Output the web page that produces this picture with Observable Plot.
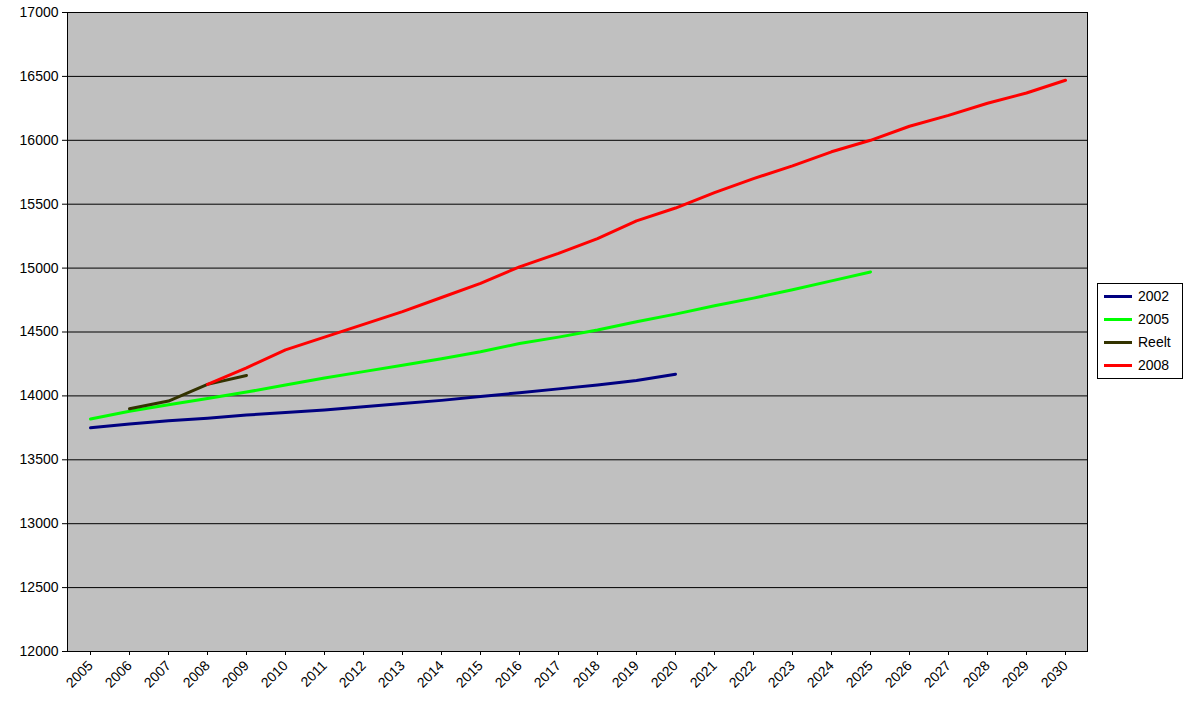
<!DOCTYPE html>
<html><head><meta charset="utf-8">
<script src="https://cdn.jsdelivr.net/npm/d3@7"></script>
<script src="https://cdn.jsdelivr.net/npm/@observablehq/plot@0.6"></script>
<style>
body{margin:0;background:#fff;font-family:"Liberation Sans",Arial,sans-serif}
#wrap{position:relative;width:1185px;height:704px}
#legend{position:absolute;left:1097px;top:283px;width:86px;height:96px;border:1px solid #000;background:#fff;box-sizing:border-box;font-size:14px}
#legend div{display:flex;align-items:center;height:22px;margin-left:6px;margin-top:1px}
#legend span{display:inline-block;width:28px;height:3px;margin-right:6px}
</style></head><body>
<div id="wrap"><div id="chart"></div><div id="legend"></div></div>
<script>
const years = d3.range(2005, 2031).map(String);
const s2002 = [13750,13780,13805,13825,13850,13870,13890,13915,13940,13965,13995,14025,14055,14085,14120,14170];
const s2005 = [13820,13880,13930,13980,14030,14085,14140,14190,14240,14290,14345,14410,14460,14515,14580,14640,14705,14765,14830,14900,14970];
const sReelt = [13900,13960,14090,14160];
const s2008 = [14090,14220,14360,14460,14560,14660,14770,14880,15010,15115,15230,15370,15470,15590,15700,15800,15910,16000,16110,16195,16290,16370,16470];
const series = [
  {name:"2002", start:2005, values:s2002, color:"#000080"},
  {name:"2005", start:2005, values:s2005, color:"#00FF00"},
  {name:"Reelt", start:2006, values:sReelt, color:"#333300"},
  {name:"2008", start:2008, values:s2008, color:"#FF0000"}
];
const rows = series.flatMap(s => s.values.map((v,i) => ({serie:s.name, year:String(s.start+i), value:v})));
const yTicks = d3.range(12000, 17001, 500);

const chart = Plot.plot({
  width:1185, height:704,
  marginLeft:67, marginRight:98, marginTop:12, marginBottom:53,
  style:{fontFamily:"Liberation Sans, Arial, sans-serif", fontSize:"14px", background:"#fff"},
  x:{type:"point", domain:years, padding:0.5, label:null, tickRotate:-45, tickSize:4},
  y:{domain:[12000,17000], ticks:yTicks, tickFormat:d => String(d), label:null, tickSize:5},
  color:{domain:series.map(s=>s.name), range:series.map(s=>s.color)},
  marks:[
    Plot.frame({fill:"#C0C0C0"}),
    Plot.ruleY(yTicks, {stroke:"#000", strokeWidth:1}),
    Plot.line(rows, {x:"year", y:"value", z:"serie", stroke:"serie", strokeWidth:3}),
    Plot.frame({stroke:"#000"})
  ]
});
document.getElementById("chart").appendChild(chart);
const lg = document.getElementById("legend");
series.forEach(s => {
  const d = document.createElement("div");
  d.innerHTML = `<span style="background:${s.color}"></span>${s.name}`;
  lg.appendChild(d);
});
</script></body></html>
